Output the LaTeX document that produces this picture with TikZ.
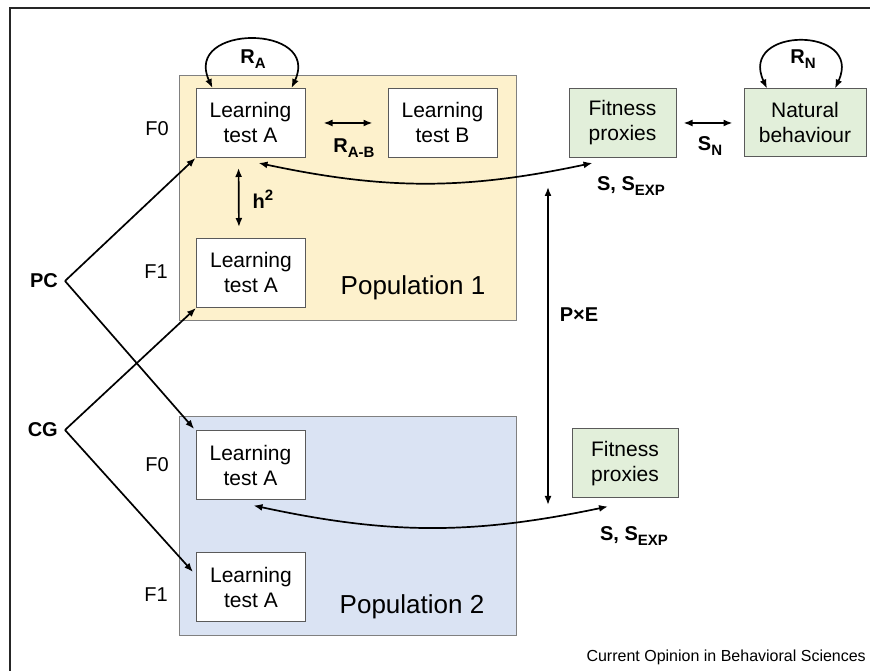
\documentclass[tikz,border=0pt]{standalone}
\usepackage{fontspec}
\setmainfont{Liberation Sans}
\usetikzlibrary{arrows.meta,positioning}
\definecolor{popone}{HTML}{FDF1CC}
\definecolor{poptwo}{HTML}{DAE3F3}
\definecolor{proxy}{HTML}{E2EFDA}
\definecolor{edgegray}{HTML}{5A5A5A}
\newcommand{\lsub}[1]{\raisebox{-0.5ex}{\fontsize{15}{18}\selectfont #1}}
\newcommand{\lsup}[1]{\raisebox{0.75ex}{\fontsize{15}{18}\selectfont #1}}

\begin{document}
\begin{tikzpicture}[>={Latex[length=9pt,width=7pt]}, x=1pt, y=1pt]
        \tikzset{block/.style={draw=edgegray, fill=white, line width=1pt, rectangle, align=center, minimum width=109pt, minimum height=69pt, inner sep=0pt, font=\fontsize{21}{25}\selectfont},
        gblock/.style={block, fill=proxy},
        pop/.style={draw=gray, line width=0.8pt, rectangle, inner sep=0pt},
        lbl/.style={font=\fontsize{20}{24}\selectfont\bfseries, inner sep=2pt},
        gen/.style={font=\fontsize{20}{24}\selectfont, inner sep=0pt},
        link/.style={line width=1.7pt}
        }
        \useasboundingbox (0,0) rectangle (870,671);
        \draw[line width=1.5pt, black!85] (10,-5) -- (10,663) -- (880,663);

%% populations
        \node [pop, fill=popone, minimum width=337pt, minimum height=245pt] (pop1) at (347.5,473.5) {};
        \node [pop, fill=poptwo, minimum width=337pt, minimum height=219pt] (pop2) at (347.5,145.5) {};
        \node [font=\fontsize{26}{30}\selectfont] (poptext1) at (413,383) {Population 1};
        \node [font=\fontsize{26}{30}\selectfont] (poptext2) at (412,64) {Population 2};

%% blocks
        \node [block] (lta1) at (250.5,548) {Learning\\test A};
        \node [block] (ltb) at (442.5,548) {Learning\\test B};
        \node [block] (lta1f1) at (251,398) {Learning\\test A};
        \node [block] (lta2) at (250.5,205.5) {Learning\\test A};
        \node [block] (lta2f1) at (251,84) {Learning\\test A};
        \node [gblock, minimum width=107pt] (fit1) at (622.5,548) {Fitness\\proxies};
        \node [gblock, minimum width=122pt, minimum height=68pt] (nat) at (805,548) {Natural\\behaviour};
        \node [gblock, minimum width=106pt] (fit2) at (625,207.5) {Fitness\\proxies};

%% generations and crosses
        \node [gen] (f0a) at (157,542) {F0};
        \node [gen] (f1a) at (156,399) {F1};
        \node [gen] (f0b) at (157,206) {F0};
        \node [gen] (f1b) at (156,76) {F1};
        \node [lbl, inner xsep=7pt, anchor=east] (pc) at (65,390) {PC};
        \node [lbl, inner xsep=7pt, anchor=east] (cg) at (65,241) {CG};
        \coordinate (pxetop) at (548,484);
        \coordinate (pxebot) at (548,166);

%% labels
        \node [lbl] (ra) at (253,612) {R\lsub{A}};
        \node [lbl] (rab) at (354,523) {R\lsub{A-B}};
        \node [lbl] (h2) at (263,472) {h\lsup{2}};
        \node [lbl] (sn) at (710,525) {S\lsub{N}};
        \node [lbl] (rn) at (803,612) {R\lsub{N}};
        \node [lbl] (sel1) at (631,485) {S, S\lsub{EXP}};
        \node [lbl] (sel2) at (634,135) {S, S\lsub{EXP}};
        \node [lbl] (pxe) at (579,356) {P\texttimes E};
        \node [anchor=east, inner sep=0pt, font=\fontsize{16}{19}\selectfont] (credit) at (866,14) {Current Opinion in Behavioral Sciences};

%% paths
        \draw[link,<->] ([xshift=-38pt]lta1.north) to[out=115,in=65,looseness=2.3] ([xshift=41pt]lta1.north);
        \draw[link,<->] ([xshift=-38pt]nat.north) to[out=115,in=65,looseness=2.6] ([xshift=30pt]nat.north);
        \draw[link,<->, shorten <=18pt, shorten >=15pt] (lta1.east) -- (ltb.west);
        \draw[link,<->, shorten <=7pt, shorten >=11pt] (fit1.east) -- (nat.west);
        \draw[link,<->, shorten <=10pt, shorten >=11pt] ([xshift=-12pt]lta1.south) -- ([xshift=-12pt]lta1f1.north);
        \draw[link,<->] ([xshift=8pt,yshift=-5pt]lta1.south) to[bend right=12] ([xshift=-30pt,yshift=-5pt]fit1.south);
        \draw[link,<->] ([xshift=3pt,yshift=-5pt]lta2.south) to[bend right=12] ([xshift=-17pt,yshift=-8pt]fit2.south);
        \draw[link,<->] (pxetop) -- (pxebot);
        \draw[link,->] (pc.east) -- (lta1.south west);
        \draw[link,->, shorten >=2pt] (pc.east) -- (lta2.north west);
        \draw[link,->] (cg.east) -- (lta1f1.south west);
        \draw[link,->] (cg.east) -- ([xshift=-3pt,yshift=15pt]lta2f1.west);
\end{tikzpicture}
\end{document}
